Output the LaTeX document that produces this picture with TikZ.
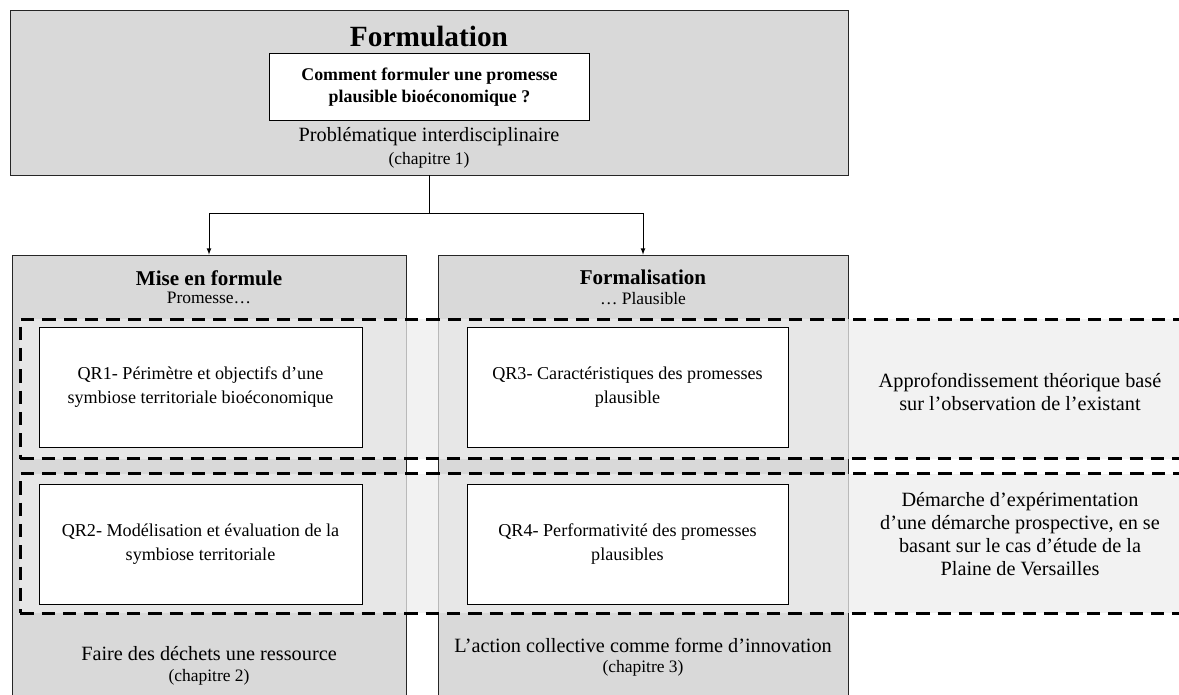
\documentclass[tikz,border=0pt]{standalone}
\usepackage{fontspec}
\setmainfont{Liberation Serif}
\usepackage{tikz}
\usetikzlibrary{arrows}
\definecolor{colgray}{RGB}{217,217,217}
\definecolor{bandgray}{RGB}{237,237,237}

\begin{document}
\begin{tikzpicture}[x=0.75pt,y=-0.75pt,
		colbox/.style={draw=black!85,line width=0.6pt,fill=colgray,inner sep=0pt},
		qrbox/.style={draw=black,line width=0.6pt,fill=white,inner sep=0pt,
			minimum height=90pt,align=center,font=\fontsize{13.6}{18.5}\selectfont},
		band/.style={draw=black,line width=2.4pt,dash pattern=on 10pt off 6pt,
			fill=bandgray,fill opacity=0.74,text opacity=1,inner sep=0pt,
			minimum width=881pt,minimum height=104.5pt},
		body/.style={font=\fontsize{15.2}{17.2}\selectfont,align=center,inner sep=0pt},
		small/.style={font=\fontsize{13.1}{15}\selectfont,inner sep=0pt},
		head/.style={font=\fontsize{15.8}{18}\selectfont\bfseries,inner sep=0pt}]
		\useasboundingbox (0,0) rectangle (1179,695);

		% Formulation
		\node[colbox,minimum width=628.5pt,minimum height=123.75pt] (form) at (429,92.5) {};
		\node[font=\fontsize{22}{24}\selectfont\bfseries,inner sep=0pt] (formtitle) at (429,37) {Formulation};
		\node[draw=black,line width=0.6pt,fill=white,minimum width=240pt,minimum height=50.5pt,
			align=center,font=\fontsize{13.4}{16.5}\selectfont\bfseries] (question) at (429.5,87)
			{Comment formuler une promesse\\plausible bio\'economique ?};
		\node[body] (prob) at (429,137) {Probl\'ematique interdisciplinaire};
		\node[small] (chap1) at (429,160) {(chapitre 1)};

		% columns
		\node[colbox,minimum width=295.5pt,minimum height=348.75pt] (left) at (209,487.5) {};
		\node[colbox,minimum width=307.5pt,minimum height=348.75pt] (right) at (643,487.5) {};
		\node[head] (miseen) at (209,278) {Mise en formule};
		\node[small] (promesse) at (209,298) {Promesse\dots};
		\node[head] (formal) at (643,277) {Formalisation};
		\node[small] (plausible) at (643,299) {\dots\ Plausible};

		% arrows
		\coordinate (junc) at (429,213);
		\draw[line width=0.6pt] (form.south) -- (junc);
		\draw[line width=0.6pt,-latex] (junc) -| (left.north);
		\draw[line width=0.6pt,-latex] (junc) -| (right.north);

		% dashed bands
		\node[band] (band1) at (607.5,389) {};
		\node[band] (band2) at (607.5,543.5) {};

		% questions de recherche
		\node[qrbox,minimum width=242.25pt] (qr1) at (200.5,387)
			{QR1- P\'erim\`etre et objectifs d'une\\symbiose territoriale bio\'economique};
		\node[qrbox,minimum width=242.25pt] (qr2) at (200.5,544)
			{QR2- Mod\'elisation et \'evaluation de la\\symbiose territoriale};
		\node[qrbox,minimum width=240.75pt] (qr3) at (627.5,387)
			{QR3- Caract\'eristiques des promesses\\plausible};
		\node[qrbox,minimum width=240.75pt] (qr4) at (627.5,544)
			{QR4- Performativit\'e des promesses\\plausibles};

		\node[body] (appro) at (1020,392)
			{Approfondissement th\'eorique bas\'e\\sur l'observation de l'existant};
		\node[body] (demarche) at (1020,534)
			{D\'emarche d'exp\'erimentation\\d'une d\'emarche prospective, en se\\basant sur le cas d'\'etude de la\\Plaine de Versailles};

		% chapitres
		\node[body] (dechets) at (209,654) {Faire des d\'echets une ressource};
		\node[small] (chap2) at (209,677) {(chapitre 2)};
		\node[body] (action) at (643,645) {L'action collective comme forme d'innovation};
		\node[small] (chap3) at (643,668) {(chapitre 3)};
\end{tikzpicture}
\end{document}
